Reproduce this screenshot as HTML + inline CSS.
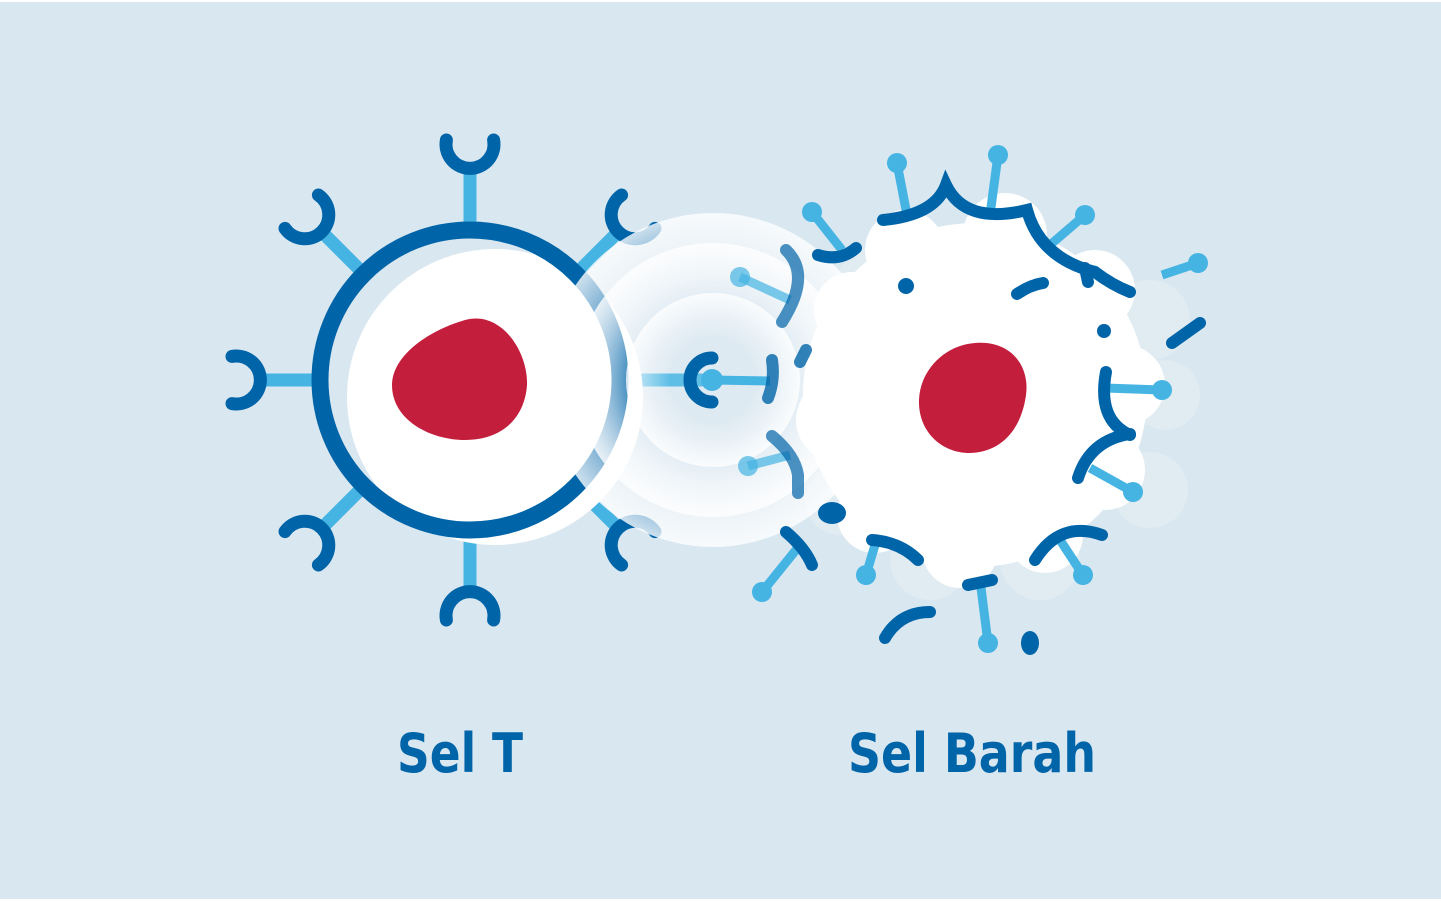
<!DOCTYPE html>
<html><head><style>
html,body{margin:0;padding:0;background:#fff}
svg{display:block}
text{font-family:"DejaVu Sans","Liberation Sans",sans-serif;font-weight:bold}
</style></head><body>
<svg width="1441" height="901" viewBox="0 0 1441 901" xmlns="http://www.w3.org/2000/svg">
<defs>
<radialGradient id="g" cx="0.5" cy="0.5" r="0.5">
<stop offset="0.5" stop-color="#fff" stop-opacity="0.05"/>
<stop offset="1" stop-color="#fff" stop-opacity="0.8"/>
</radialGradient>
<g id="cup"><path d="M-23.6,-4 A24,24 0 1 0 23.6,-4" fill="none" stroke="#0064a8" stroke-width="13" stroke-linecap="round"/></g>
</defs>
<rect width="1441" height="901" fill="#fff"/>
<rect x="0" y="2" width="1441" height="897" fill="#d9e7f0"/>

<g transform="translate(470,380)">
<g stroke="#45b4e3" stroke-width="13">
<line x1="0" y1="-215" x2="0" y2="-150"/>
<line x1="0" y1="215" x2="0" y2="150"/>
<line x1="-215" y1="0" x2="-150" y2="0"/>
<line x1="-152" y1="-152" x2="-106" y2="-106"/>
<line x1="152" y1="-152" x2="106" y2="-106"/>
<line x1="-152" y1="152" x2="-106" y2="106"/>
<line x1="152" y1="152" x2="106" y2="106"/>
<line x1="150" y1="0" x2="240" y2="0"/>
</g>
<use href="#cup" transform="rotate(0) translate(0,-236)"/>
<use href="#cup" transform="rotate(45) translate(0,-234)"/>
<use href="#cup" transform="rotate(-45) translate(0,-234)"/>
<use href="#cup" transform="rotate(-90) translate(0,-234)"/>
<use href="#cup" transform="rotate(-135) translate(0,-234)"/>
<use href="#cup" transform="rotate(135) translate(0,-234)"/>
<use href="#cup" transform="rotate(180) translate(0,-236)"/>
<circle cx="25" cy="17" r="148" fill="#fff"/>
<circle cx="0" cy="0" r="150" fill="none" stroke="#0064a8" stroke-width="17"/>
<path d="M-5,-60 C30,-70 58,-30 57,5 C55,35 35,60 -5,60 C-40,60 -78,40 -78,5 C-78,-25 -40,-50 -5,-60Z" fill="#c41e3d"/>
</g>

<g fill="#e1ebf2">
<circle cx="880" cy="290" r="45"/><circle cx="1150" cy="320" r="40"/><circle cx="1165" cy="395" r="35"/>
<circle cx="1150" cy="490" r="38"/><circle cx="840" cy="500" r="35"/><circle cx="930" cy="560" r="40"/><circle cx="1040" cy="560" r="40"/>
</g>
<g fill="#fff">
<circle cx="975" cy="395" r="172"/>
<circle cx="905" cy="250" r="40"/><circle cx="1005" cy="235" r="42"/><circle cx="1095" cy="290" r="40"/>
<circle cx="1125" cy="385" r="40"/><circle cx="1105" cy="470" r="40"/><circle cx="1045" cy="535" r="38"/>
<circle cx="960" cy="550" r="38"/><circle cx="875" cy="515" r="38"/><circle cx="838" cy="420" r="42"/><circle cx="852" cy="310" r="38"/>
</g>
<path d="M975,343 C1010,340 1030,365 1026,395 C1022,425 1005,452 970,453 C940,453 918,430 919,400 C920,370 945,345 975,343Z" fill="#c41e3d"/>

<circle cx="713" cy="380" r="167" fill="url(#g)"/>
<circle cx="713" cy="380" r="137" fill="url(#g)"/>
<circle cx="713" cy="380" r="87" fill="url(#g)"/>

<g stroke="#45b4e3" stroke-width="9">
<line x1="907" y1="215" x2="897" y2="163"/><line x1="990" y1="215" x2="998" y2="155"/>
<line x1="1050" y1="245" x2="1085" y2="215"/><line x1="1162" y1="275" x2="1198" y2="263"/>
<line x1="1105" y1="388" x2="1162" y2="390"/><line x1="1090" y1="468" x2="1133" y2="492"/>
<line x1="1060" y1="540" x2="1083" y2="575"/><line x1="980" y1="580" x2="988" y2="643"/>
<line x1="875" y1="545" x2="866" y2="575"/><line x1="800" y1="545" x2="762" y2="592"/>
<line x1="842" y1="250" x2="812" y2="212"/>
<line x1="790" y1="300" x2="740" y2="277" opacity="0.7"/><line x1="770" y1="381" x2="712" y2="380"/>
<line x1="790" y1="455" x2="748" y2="466" opacity="0.7"/>
</g>
<g fill="#45b4e3">
<circle cx="897" cy="163" r="10"/><circle cx="998" cy="155" r="10"/><circle cx="1085" cy="215" r="10"/>
<circle cx="1198" cy="263" r="10"/><circle cx="1162" cy="390" r="10"/><circle cx="1133" cy="492" r="10"/>
<circle cx="1083" cy="575" r="10"/><circle cx="988" cy="643" r="10"/><circle cx="866" cy="575" r="10"/>
<circle cx="762" cy="592" r="10"/><circle cx="812" cy="212" r="10"/><circle cx="740" cy="277" r="10" opacity="0.7"/>
<circle cx="712" cy="380" r="11"/><circle cx="748" cy="466" r="10" opacity="0.7"/>
</g>
<path d="M712,358 A22,22 0 0 0 712,402" fill="none" stroke="#0064a8" stroke-width="13" stroke-linecap="round"/>

<g fill="none" stroke="#0064a8" stroke-width="12" stroke-linecap="round">
<path d="M883,220 Q935,215 946,185 Q965,225 1027,210 Q1040,258 1095,272 Q1112,285 1130,292"/>
<path d="M1085,268 L1088,282"/>
<path d="M818,255 Q840,262 856,248"/>
<path d="M1017,294 Q1030,285 1043,283"/>
<path d="M1172,343 L1200,323"/>
<path d="M1106,372 Q1097,420 1130,435"/>
<path d="M1078,478 Q1090,440 1130,434"/>
<path d="M1035,560 Q1060,520 1102,535"/>
<path d="M968,585 L992,580"/>
<path d="M872,540 Q900,542 918,560"/>
<path d="M885,638 Q900,612 930,612"/>
<path d="M786,532 Q805,548 812,565"/>
<path d="M798,493 L798,475 Q795,455 772,436" opacity="0.7"/>
<path d="M786,250 Q812,275 782,322" opacity="0.7"/>
<path d="M772,360 Q775,380 768,398" opacity="0.8"/>
<path d="M806,350 L800,362" opacity="0.8"/>
</g>
<g fill="#0064a8">
<circle cx="906" cy="286" r="8"/><circle cx="1104" cy="331" r="7"/>
<ellipse cx="832" cy="513" rx="14" ry="11"/><ellipse cx="1030" cy="643" rx="9" ry="12"/>
</g>

<text x="460" y="772" font-size="54" fill="#0064a8" text-anchor="middle" textLength="126" lengthAdjust="spacingAndGlyphs">Sel T</text>
<text x="972" y="772" font-size="54" fill="#0064a8" text-anchor="middle" textLength="248" lengthAdjust="spacingAndGlyphs">Sel Barah</text>
</svg>
</body></html>
